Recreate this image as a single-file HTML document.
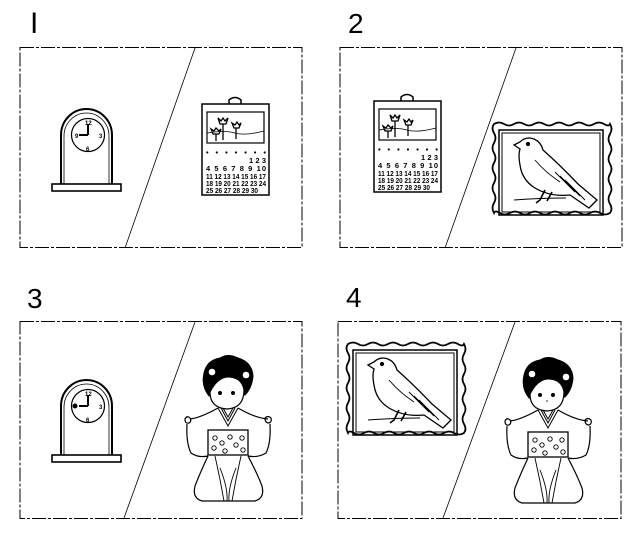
<!DOCTYPE html>
<html><head><meta charset="utf-8"><style>
html,body{margin:0;padding:0;background:#fff;}
svg{display:block;}
text{font-family:"Liberation Sans",sans-serif;fill:#000;}
.c{font-size:7.5px;font-weight:bold;}
</style></head><body>
<svg width="640" height="533" viewBox="0 0 640 533" xmlns="http://www.w3.org/2000/svg" fill="none" stroke="#000" stroke-width="1">
<text x="30" y="33" style="font-size:30px" stroke="none">I</text>
<text x="348" y="33" style="font-size:28px" stroke="none">2</text>
<text x="27" y="308" style="font-size:28px" stroke="none">3</text>
<text x="346" y="307" style="font-size:28px" stroke="none">4</text>
<g stroke-dasharray="14 2 3 2">
<rect x="20" y="47.5" width="282" height="200"/>
<rect x="340" y="47.5" width="282" height="200"/>
<rect x="20" y="321.5" width="282" height="197"/>
<rect x="338" y="321.5" width="283" height="197"/>
</g>
<g stroke-width="0.8">
<line x1="195" y1="48" x2="125" y2="248"/>
<line x1="516" y1="48" x2="445" y2="248"/>
<line x1="195" y1="322" x2="124" y2="518"/>
<line x1="515" y1="322" x2="443" y2="518"/>
</g>

<g>
<path d="M61 184 V135 A25.5 26 0 0 1 112 135 V184" stroke-width="2"/>
<path d="M64 184 V136 A22.5 23 0 0 1 109 136 V184" stroke-width="0.8"/>
<rect x="52" y="184" width="69" height="7" stroke-width="1.6"/>
<circle cx="88" cy="135" r="16.5" stroke-width="1.2"/>
<path d="M88 135 V124 M88 135 H79" stroke-width="2"/>
<g stroke="none" fill="#000" font-size="6" font-weight="bold">
<text x="85" y="125">12</text><text x="99" y="138">3</text><text x="86" y="151">6</text><text x="75" y="138">9</text></g>
</g>
<g transform="translate(0,271)">
<path d="M61 184 V135 A25.5 26 0 0 1 112 135 V184" stroke-width="2"/>
<path d="M64 184 V136 A22.5 23 0 0 1 109 136 V184" stroke-width="0.8"/>
<rect x="52" y="184" width="69" height="7" stroke-width="1.6"/>
<circle cx="88" cy="135" r="16.5" stroke-width="1.2"/>
<path d="M88 135 V124 M88 135 H79" stroke-width="2"/>
<circle cx="75" cy="135" r="2" fill="#000"/>
<g stroke="none" fill="#000" font-size="6" font-weight="bold">
<text x="85" y="125">12</text><text x="99" y="138">3</text><text x="86" y="151">6</text></g>
</g>

<g>
<rect x="202" y="104" width="67" height="91" stroke-width="1.5"/>
<path d="M229 104 V100 Q235 95 241 100 V104" stroke-width="1.5"/>
<rect x="207" y="112" width="57" height="31" stroke-width="1.2"/>
<path d="M207 133 Q225 130 235 133 T264 131" stroke-width="0.8"/>
<path d="M218 118 l2 6 h6 l2 -6 l-3 3 l-2-3 l-2 3z M223 124 V140 M232 123 l2 5 h5 l2-5 l-2 2 l-2-3 l-2 3z M236 128 V139 M211 129 l2 5 h6 l2-5 l-2 2 l-3-3 l-2 3z M216 134 V141" stroke-width="1.3"/>
<g stroke="none" fill="#000" class="c">
<text x="206" y="155" textLength="60" lengthAdjust="spacing">• • • • • • •</text>
<text x="249" y="163" textLength="17" lengthAdjust="spacing">1 2 3</text>
<text x="206" y="171" textLength="60" lengthAdjust="spacing">4 5 6 7 8 9 10</text>
<text x="206" y="179" textLength="60" lengthAdjust="spacingAndGlyphs">11 12 13 14 15 16 17</text>
<text x="206" y="186" textLength="60" lengthAdjust="spacingAndGlyphs">18 19 20 21 22 23 24</text>
<text x="206" y="193" textLength="52" lengthAdjust="spacingAndGlyphs">25 26 27 28 29 30</text>
</g>
</g>
<g transform="translate(172,-3)">
<rect x="202" y="104" width="67" height="91" stroke-width="1.5"/>
<path d="M229 104 V100 Q235 95 241 100 V104" stroke-width="1.5"/>
<rect x="207" y="112" width="57" height="31" stroke-width="1.2"/>
<path d="M207 133 Q225 130 235 133 T264 131" stroke-width="0.8"/>
<path d="M218 118 l2 6 h6 l2 -6 l-3 3 l-2-3 l-2 3z M223 124 V140 M232 123 l2 5 h5 l2-5 l-2 2 l-2-3 l-2 3z M236 128 V139 M211 129 l2 5 h6 l2-5 l-2 2 l-3-3 l-2 3z M216 134 V141" stroke-width="1.3"/>
<g stroke="none" fill="#000" class="c">
<text x="206" y="155" textLength="60" lengthAdjust="spacing">• • • • • • •</text>
<text x="249" y="163" textLength="17" lengthAdjust="spacing">1 2 3</text>
<text x="206" y="171" textLength="60" lengthAdjust="spacing">4 5 6 7 8 9 10</text>
<text x="206" y="179" textLength="60" lengthAdjust="spacingAndGlyphs">11 12 13 14 15 16 17</text>
<text x="206" y="186" textLength="60" lengthAdjust="spacingAndGlyphs">18 19 20 21 22 23 24</text>
<text x="206" y="193" textLength="52" lengthAdjust="spacingAndGlyphs">25 26 27 28 29 30</text>
</g>
</g>

<g>
<path d="M494 124 q5 -3 10 0 t10 0 t10 0 t10 0 t10 0 t10 0 t10 0 t10 0 t10 0 t10 0 t10 0 t6 0 q3 5 0 10 t0 10 t0 10 t0 10 t0 10 t0 10 t0 10 t0 10 t0 9 q-5 3 -10 0 t-10 0 t-10 0 t-10 0 t-10 0 t-10 0 t-10 0 t-10 0 t-10 0 t-10 0 t-10 0 t-6 0 q-3 -5 0 -10 t0 -10 t0 -10 t0 -10 t0 -10 t0 -10 t0 -10 t0 -10 t0 -9z" stroke-width="1.8"/>
<rect x="499" y="130" width="104" height="85" stroke-width="1.5"/>
<rect x="502" y="133" width="98" height="79" stroke-width="1"/>
<path d="M514 145 L520 142 Q526 136 534 139 Q541 142 543 150 Q560 165 578 184 L597 200 L589 208 L570 195 Q550 197 535 188 Q522 180 520 165 Q518 155 520 149 Z" stroke-width="1.3"/>
<circle cx="528" cy="144" r="1.6" fill="#000"/>
<path d="M535 160 Q545 172 560 182 M555 172 L575 192 M560 176 L580 196 M565 180 L585 200" stroke-width="0.9"/>
<path d="M545 190 L540 200 L536 203 M552 192 L547 201" stroke-width="1.6"/>
<path d="M514 200 Q540 198 566 198" stroke-width="1"/>
</g>
<g transform="translate(-146,220)">
<path d="M494 124 q5 -3 10 0 t10 0 t10 0 t10 0 t10 0 t10 0 t10 0 t10 0 t10 0 t10 0 t10 0 t6 0 q3 5 0 10 t0 10 t0 10 t0 10 t0 10 t0 10 t0 10 t0 10 t0 9 q-5 3 -10 0 t-10 0 t-10 0 t-10 0 t-10 0 t-10 0 t-10 0 t-10 0 t-10 0 t-10 0 t-10 0 t-6 0 q-3 -5 0 -10 t0 -10 t0 -10 t0 -10 t0 -10 t0 -10 t0 -10 t0 -10 t0 -9z" stroke-width="1.8"/>
<rect x="499" y="130" width="104" height="85" stroke-width="1.5"/>
<rect x="502" y="133" width="98" height="79" stroke-width="1"/>
<path d="M514 145 L520 142 Q526 136 534 139 Q541 142 543 150 Q560 165 578 184 L597 200 L589 208 L570 195 Q550 197 535 188 Q522 180 520 165 Q518 155 520 149 Z" stroke-width="1.3"/>
<circle cx="528" cy="144" r="1.6" fill="#000"/>
<path d="M535 160 Q545 172 560 182 M555 172 L575 192 M560 176 L580 196 M565 180 L585 200" stroke-width="0.9"/>
<path d="M545 190 L540 200 L536 203 M552 192 L547 201" stroke-width="1.6"/>
<path d="M514 200 Q540 198 566 198" stroke-width="1"/>
</g>

<g>
<path d="M529 398 Q521 388 524 375 Q527 362 540 360 Q548 355 558 360 Q572 364 573 378 Q572 390 565 397 Z" fill="#000"/>
<circle cx="532" cy="374" r="3.3" fill="#fff" stroke="none"/>
<circle cx="566" cy="377" r="3.3" fill="#fff" stroke="none"/>
<path d="M530 394 Q530 410 547 411 Q564 410 564 392 Q562 380 550 379 Q538 378 530 394 Z" fill="#fff" stroke-width="1.2"/>
<circle cx="540" cy="395" r="1.5" fill="#000"/>
<circle cx="553" cy="395" r="1.5" fill="#000"/>
<path d="M547 400 v2" stroke-width="0.8"/>
<path d="M538 410 L548 428 L558 410 M541 410 L548 423 L555 410 M543 410 L548 419 L553 410" stroke-width="1"/>
<path d="M538 410 Q520 420 510 421 M558 410 Q575 420 588 421" stroke-width="1.2"/>
<path d="M505 421 q2 -4 5 -1 q2 3 -1 5 q-4 1 -4 -4z M585 420 q3 -3 6 0 q1 4 -2 5 q-4 0 -4 -5z" stroke-width="1.2"/>
<path d="M507 426 Q506 445 511 455 Q518 460 528 458 M590 426 Q591 445 586 455 Q578 460 568 458" stroke-width="1.2"/>
<rect x="528" y="432" width="40" height="25" stroke-width="1.3"/>
<g stroke-width="0.9"><circle cx="535" cy="440" r="2.2"/><circle cx="542" cy="445" r="2.2"/><circle cx="550" cy="439" r="2.2"/><circle cx="534" cy="450" r="2.2"/><circle cx="545" cy="453" r="2.2"/><circle cx="556" cy="447" r="2.2"/><circle cx="562" cy="440" r="2.2"/><circle cx="563" cy="452" r="2.2"/></g>
<path d="M528 458 Q520 475 515 488 Q512 500 522 503 L575 503 Q585 500 582 488 Q577 475 568 458" stroke-width="1.2"/>
<path d="M535 458 Q540 480 544 503 M561 458 Q556 480 552 503 M540 470 Q548 490 547 503 M556 470 Q548 490 549 503" stroke-width="0.9"/>
</g>
<g transform="translate(-320,-2)">
<path d="M529 398 Q521 388 524 375 Q527 362 540 360 Q548 355 558 360 Q572 364 573 378 Q572 390 565 397 Z" fill="#000"/>
<circle cx="532" cy="374" r="3.3" fill="#fff" stroke="none"/>
<circle cx="566" cy="377" r="3.3" fill="#fff" stroke="none"/>
<path d="M530 394 Q530 410 547 411 Q564 410 564 392 Q562 380 550 379 Q538 378 530 394 Z" fill="#fff" stroke-width="1.2"/>
<circle cx="540" cy="395" r="1.5" fill="#000"/>
<circle cx="553" cy="395" r="1.5" fill="#000"/>
<path d="M538 410 L548 428 L558 410 M541 410 L548 423 L555 410 M543 410 L548 419 L553 410" stroke-width="1"/>
<path d="M538 410 Q520 420 510 421 M558 410 Q575 420 588 421" stroke-width="1.2"/>
<path d="M505 421 q2 -4 5 -1 q2 3 -1 5 q-4 1 -4 -4z M585 420 q3 -3 6 0 q1 4 -2 5 q-4 0 -4 -5z" stroke-width="1.2"/>
<path d="M507 426 Q506 445 511 455 Q518 460 528 458 M590 426 Q591 445 586 455 Q578 460 568 458" stroke-width="1.2"/>
<rect x="528" y="432" width="40" height="25" stroke-width="1.3"/>
<g stroke-width="0.9"><circle cx="535" cy="440" r="2.2"/><circle cx="542" cy="445" r="2.2"/><circle cx="550" cy="439" r="2.2"/><circle cx="534" cy="450" r="2.2"/><circle cx="545" cy="453" r="2.2"/><circle cx="556" cy="447" r="2.2"/><circle cx="562" cy="440" r="2.2"/><circle cx="563" cy="452" r="2.2"/></g>
<path d="M528 458 Q520 475 515 488 Q512 500 522 503 L575 503 Q585 500 582 488 Q577 475 568 458" stroke-width="1.2"/>
<path d="M535 458 Q540 480 544 503 M561 458 Q556 480 552 503 M540 470 Q548 490 547 503 M556 470 Q548 490 549 503" stroke-width="0.9"/>
</g>
</svg>
</body></html>
